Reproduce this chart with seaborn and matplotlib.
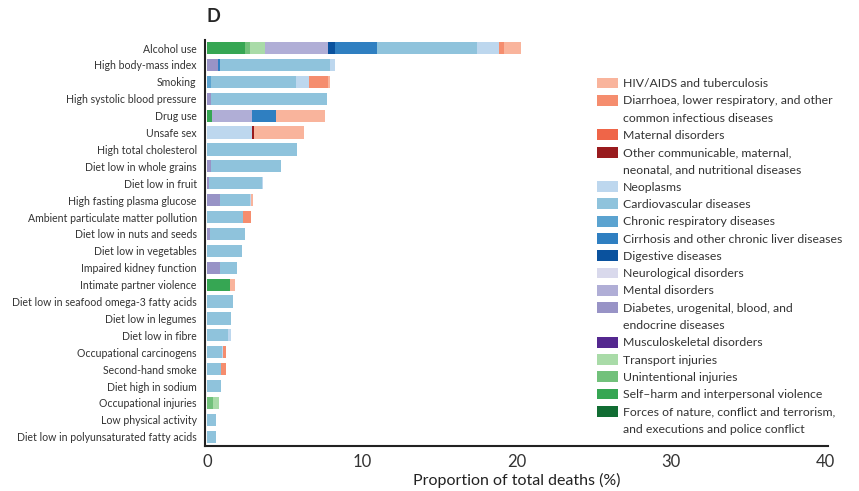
import numpy as np
import pandas as pd
import matplotlib
matplotlib.use("Agg")
import matplotlib.pyplot as plt
import matplotlib.patches as mpatches
import seaborn as sns

# ------------------------------------------
# DATA (proportion of total deaths, %)
# ------------------------------------------

factors = [
    "Alcohol use", "High body-mass index", "Smoking", "High systolic blood pressure",
    "Drug use", "Unsafe sex", "High total cholesterol", "Diet low in whole grains",
    "Diet low in fruit", "High fasting plasma glucose", "Ambient particulate matter pollution",
    "Diet low in nuts and seeds", "Diet low in vegetables", "Impaired kidney function",
    "Intimate partner violence", "Diet low in seafood omega-3 fatty acids",
    "Diet low in legumes", "Diet low in fibre", "Occupational carcinogens",
    "Second-hand smoke", "Diet high in sodium", "Occupational injuries",
    "Low physical activity", "Diet low in polyunsaturated fatty acids",
]

# legend order (top to bottom); bars stack in the reverse order
causes = [
    "HIV/AIDS and tuberculosis",
    "Diarrhoea, lower respiratory, and other\ncommon infectious diseases",
    "Maternal disorders",
    "Other communicable, maternal,\nneonatal, and nutritional diseases",
    "Neoplasms",
    "Cardiovascular diseases",
    "Chronic respiratory diseases",
    "Cirrhosis and other chronic liver diseases",
    "Digestive diseases",
    "Neurological disorders",
    "Mental disorders",
    "Diabetes, urogenital, blood, and\nendocrine diseases",
    "Musculoskeletal disorders",
    "Transport injuries",
    "Unintentional injuries",
    "Self\u2013harm and interpersonal violence",
    "Forces of nature, conflict and terrorism,\nand executions and police conflict",
]

colors = [
    "#f9b49c", "#f58d6e", "#ef6548", "#991b1e",
    "#bdd7ee", "#8fc3dc", "#5ba3d0", "#2f7fc1", "#0a529e",
    "#d9d9ec", "#b0aed6", "#9893c6", "#54288f",
    "#a9dba8", "#72c17b", "#36a653", "#116d33",
]

#               Alc   BMI   Smk   SBP   Drug  Sex   Chol  Grn   Frt   FPG   PM    Nut   Veg   Kid   IPV   Sea   Leg   Fib   OcC   SHS   Na    OcI   LPA   PUFA
hiv_tb       = [1.10, 0,    0.17, 0,    3.18, 3.19, 0,    0,    0,    0.10, 0,    0,    0,    0,    0.32, 0,    0,    0,    0,    0,    0,    0,    0,    0]
diarrhoea    = [0.30, 0,    1.23, 0,    0,    0,    0,    0,    0,    0,    0.54, 0,    0,    0,    0,    0,    0,    0,    0.21, 0.32, 0,    0,    0,    0]
maternal     = [0] * 24
other_comm   = [0,    0,    0,    0,    0,    0.15, 0,    0,    0,    0,    0,    0,    0,    0,    0,    0,    0,    0,    0,    0,    0,    0,    0,    0]
neoplasms    = [1.40, 0.30, 0.81, 0,    0,    2.89, 0,    0,    0.10, 0.10, 0,    0,    0,    0,    0,    0,    0,    0.19, 0.06, 0,    0,    0,    0,    0]
cardio       = [6.50, 7.10, 5.50, 7.47, 0,    0,    5.80, 4.54, 3.40, 1.90, 2.28, 2.26, 2.24, 1.12, 0,    1.64, 1.53, 1.34, 0.95, 0.88, 0.90, 0,    0.56, 0.56]
chronic_resp = [0,    0,    0.25, 0,    0,    0,    0,    0,    0,    0,    0,    0,    0,    0,    0,    0,    0,    0,    0,    0,    0,    0,    0,    0]
cirrhosis    = [2.70, 0.13, 0,    0,    1.57, 0,    0,    0,    0,    0,    0,    0,    0,    0,    0,    0,    0,    0,    0,    0,    0,    0,    0,    0]
digestive    = [0.45, 0,    0,    0,    0,    0,    0,    0,    0,    0,    0,    0,    0,    0,    0,    0,    0,    0,    0,    0,    0,    0,    0,    0]
neurological = [0] * 24
mental       = [4.07, 0,    0,    0,    2.58, 0,    0,    0,    0,    0,    0,    0,    0,    0,    0,    0,    0,    0,    0,    0,    0,    0,    0,    0]
diabetes     = [0,    0.72, 0,    0.25, 0,    0,    0,    0.24, 0.12, 0.84, 0,    0.15, 0,    0.80, 0,    0,    0,    0,    0,    0,    0,    0,    0,    0]
musculo      = [0] * 24
transport    = [1.00, 0,    0,    0,    0,    0,    0,    0,    0,    0,    0,    0,    0,    0,    0,    0,    0,    0,    0,    0,    0,    0.39, 0,    0]
unintent     = [0.30, 0,    0,    0,    0,    0,    0,    0,    0,    0,    0,    0,    0,    0,    0,    0,    0,    0,    0,    0,    0,    0.34, 0,    0]
self_harm    = [2.45, 0,    0,    0,    0.30, 0,    0,    0,    0,    0,    0,    0,    0,    0,    1.44, 0,    0,    0,    0,    0,    0,    0,    0,    0]
forces       = [0] * 24

values = [hiv_tb, diarrhoea, maternal, other_comm, neoplasms, cardio, chronic_resp,
          cirrhosis, digestive, neurological, mental, diabetes, musculo,
          transport, unintent, self_harm, forces]

# ------------------------------------------
# PLOT
# ------------------------------------------

sns.set_style("white")
plt.rcParams["font.family"] = ["Lato", "DejaVu Sans"]

fig = plt.figure(figsize=(8.59, 4.91), dpi=100)
ax = fig.add_axes([205 / 859, (491 - 446) / 491, 623 / 859, (446 - 39.6) / 491])

df = pd.DataFrame(np.array(values).T, columns=causes)
df.insert(0, "factor", factors)

# stack: forces first (left) ... HIV last (right)
stack_order = causes[::-1]
cum = df[stack_order].cumsum(axis=1)

# draw the longest cumulative first, then overlay the shorter ones
for cause in causes:
    c = colors[causes.index(cause)]
    sns.barplot(x=cum[cause], y=df["factor"], order=factors, orient="h",
                color=c, saturation=1, width=0.72, linewidth=0, ax=ax)

ax.set_xlim(-0.15, 40.15)
ax.set_ylim(len(factors) - 0.45, -0.5)

# y: brackets at boundaries, labels in between
ax.set_yticks(np.arange(-0.5, len(factors), 1.0))
ax.set_yticklabels([])
ax.set_yticks(np.arange(len(factors)), minor=True)
ax.set_yticklabels(factors, minor=True, fontsize=7.6, color="#333333")
ax.tick_params(axis="y", which="major", length=4, width=1.3, color="#222222", direction="out")
ax.tick_params(axis="y", which="minor", length=0, pad=6)

ax.set_xticks([0, 10, 20, 30, 40])
ax.tick_params(axis="x", length=5, width=1.5, color="#222222", labelsize=12,
               labelcolor="#333333", pad=1)
ax.set_xlabel("Proportion of total deaths (%)", fontsize=11.5, color="#222222", labelpad=2)
ax.set_ylabel("")

sns.despine(ax=ax)
for s in ["left", "bottom"]:
    ax.spines[s].set_linewidth(1.5)
    ax.spines[s].set_color("#222222")

fig.text(207 / 859, 1 - 16 / 491, "D", fontsize=13, fontweight="bold", va="center")

# legend: split two-line labels so swatches sit on the first line
handles, labels = [], []
for cause, c in zip(causes, colors):
    lines = cause.split("\n")
    handles.append(mpatches.Patch(facecolor=c, edgecolor="none"))
    labels.append(lines[0])
    for extra in lines[1:]:
        handles.append(mpatches.Patch(facecolor="none", edgecolor="none"))
        labels.append(extra)

leg = fig.legend(handles, labels, loc="upper left", bbox_to_anchor=(597 / 859, 1 - 77.5 / 491),
                 frameon=False, fontsize=8.8, handlelength=1.72, handleheight=1.0,
                 handletextpad=0.4, labelspacing=0.46, borderaxespad=0, borderpad=0)
for t in leg.get_texts():
    t.set_color("#333333")

fig.savefig("out.png", dpi=100)
